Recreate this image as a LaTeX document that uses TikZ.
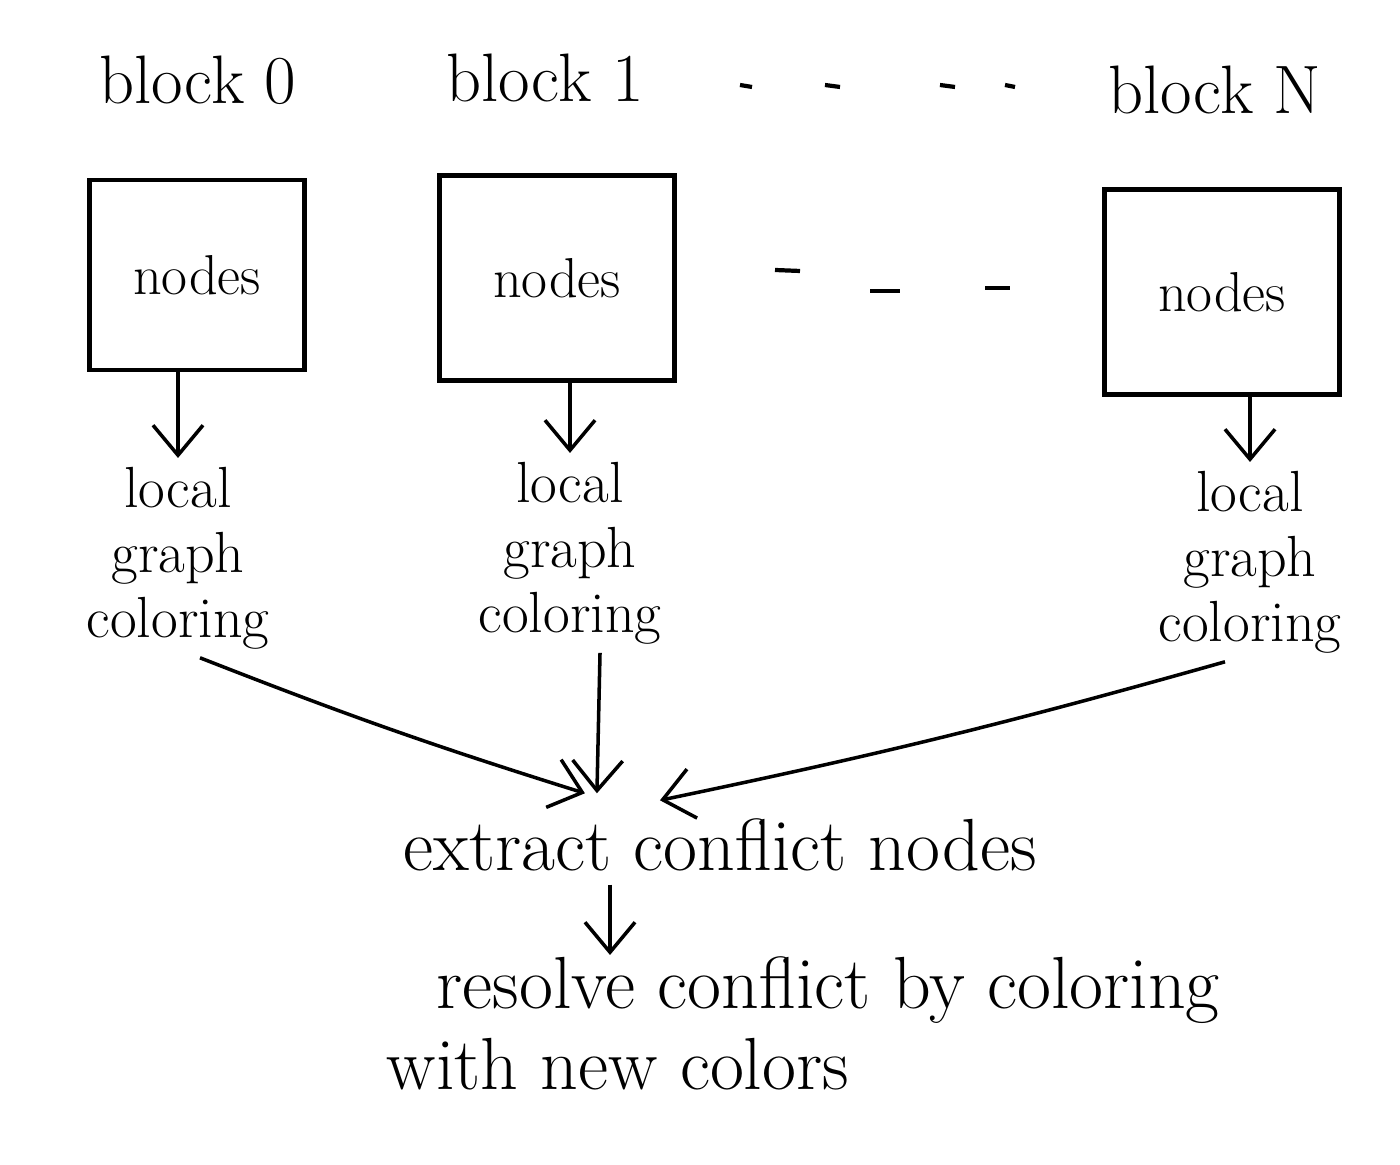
\documentclass[tikz,border=0pt]{standalone}
\usetikzlibrary{arrows.meta}
\begin{document}
\begin{tikzpicture}[x=0.01cm,y=-0.01cm,
  line width=1pt,
  titletext/.style={font=\fontsize{19.5}{23}\selectfont},
  bigtext/.style={font=\fontsize{21}{23}\selectfont},
  blockbox/.style={draw,line width=1.2pt,inner sep=0pt,font=\fontsize{16}{19}\selectfont},
  lgtext/.style={font=\fontsize{16.5}{18.5}\selectfont,align=center,inner sep=2pt},
  arr/.style={-{Straight Barb[length=3mm,width=5mm]},line width=1pt},
  dashmark/.style={line width=1.2pt}]
\useasboundingbox (0,0) rectangle (1400,1165);
% titles
\node[titletext] (t0) at (198,80) {block 0};
\node[titletext] (t1) at (545,78) {block 1};
\node[titletext] (tN) at (1215,90) {block N};
\foreach \a/\b in {740/752,825/840,940/955,1005/1015}
  \draw[dashmark] (\a,85) -- (\b,87);
% boxes
\node[blockbox,minimum width=2.15cm,minimum height=1.9cm] (b0) at (197,275) {nodes};
\node[blockbox,minimum width=2.35cm,minimum height=2.05cm] (b1) at (557,278) {nodes};
\node[blockbox,minimum width=2.35cm,minimum height=2.05cm] (bN) at (1222,292) {nodes};
\draw[dashmark] (775,270) -- (800,271);
\draw[dashmark] (870,291) -- (900,291);
\draw[dashmark] (985,288) -- (1010,288);
% local graph coloring
\node[lgtext,anchor=north] (l0) at (178,458) {local\\graph\\coloring};
\node[lgtext,anchor=north] (l1) at (570,453) {local\\graph\\coloring};
\node[lgtext,anchor=north] (lN) at (1250,462) {local\\graph\\coloring};
\draw[arr] (b0.south -| l0.north) -- (l0.north);
\draw[arr] (b1.south -| l1.north) -- (l1.north);
\draw[arr] (bN.south -| lN.north) -- (lN.north);
% extract
\node[bigtext] (ex) at (720,845) {extract conflict nodes};
\draw[arr] ([xshift=0.22cm]l0.south) to[bend right=2] ([xshift=-1.35cm,yshift=0.12cm]ex.north);
\draw[arr] ([xshift=0.3cm]l1.south) -- ([xshift=-1.23cm,yshift=0.12cm]ex.north);
\draw[arr] ([xshift=-0.25cm]lN.south) to[bend left=2] ([xshift=-0.6cm,yshift=0.05cm]ex.north);
% resolve
\node[bigtext,align=left,anchor=north west,inner sep=0pt] (rs) at (385,955) {\hspace*{0.5cm}resolve conflict by coloring\\with new colors};
\draw[arr] (ex.south -| 610,0) -- (rs.north -| 610,0);
\end{tikzpicture}
\end{document}
